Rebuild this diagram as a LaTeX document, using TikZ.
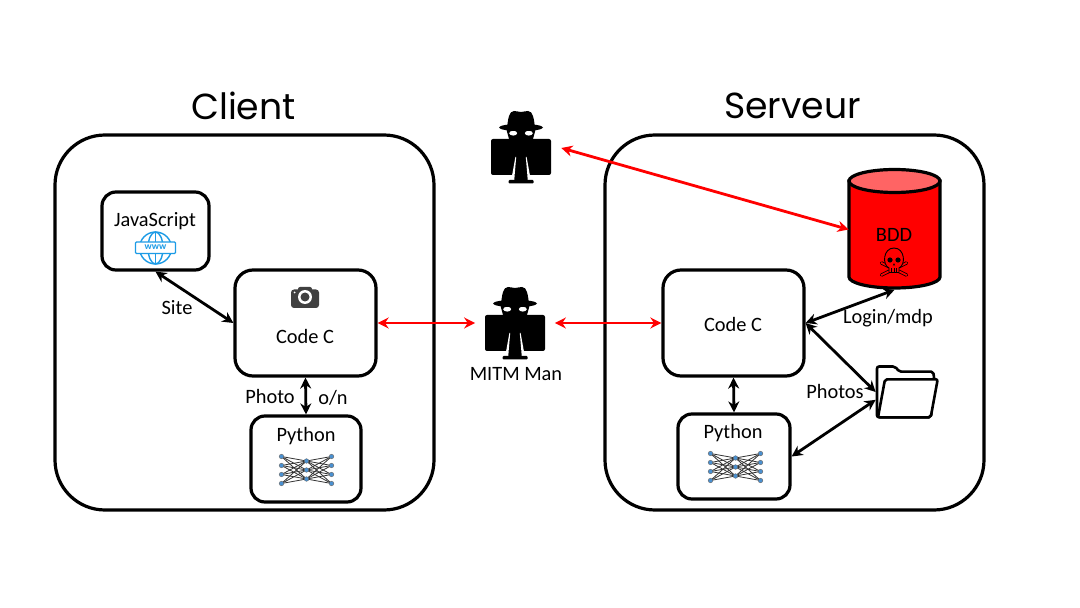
\documentclass[tikz,border=0pt]{standalone}
\usepackage{fontspec}
\setmainfont{Carlito}
\newfontfamily\titlefont{Poppins}
\usetikzlibrary{arrows.meta}
\def\px{0.02cm}
\definecolor{wwwblue}{HTML}{1C9BE6}
\definecolor{netblue}{HTML}{4A90D0}
\definecolor{camgray}{HTML}{404040}
\definecolor{bddtop}{HTML}{FF6464}
\tikzset{
    outerbox/.style={draw, line width=3.2*\px, rounded corners=50*\px, inner sep=0pt, minimum width=379*\px, minimum height=375*\px},
    innerbox/.style={draw, line width=3.2*\px, rounded corners=14*\px, inner sep=0pt, fill=white},
    iconbox/.style={inner sep=0pt, minimum width=#1*\px, minimum height=60*\px},
    lbl/.style={font=\fontsize{11.6pt}{13pt}\selectfont, inner sep=0pt},
    titlelbl/.style={font=\titlefont\fontsize{20.6pt}{24pt}\selectfont, inner sep=0pt},
    blackarrow/.style={{Stealth[length=11*\px,width=11*\px]}-{Stealth[length=11*\px,width=11*\px]}, line width=2.8*\px},
    redarrow/.style={blackarrow, red},
    spyman/.pic={
        \fill[rounded corners=2*\px] (-30,-18) rectangle (30,18);
        \fill (-15,-29) -- (15,-29) -- (12,-18) -- (-12,-18) -- cycle;
        \fill[white] (-7.8,-23.8) ellipse (4 and 2.4);
        \fill[white] (7.8,-23.8) ellipse (4 and 2.4);
        \fill (0,-29.5) ellipse (22 and 3.6);
        \fill (-14,-29) .. controls (-13,-38) and (-12,-46) .. (-7,-46) .. controls (-4,-46) and (-2,-45) .. (0,-45) .. controls (2,-45) and (4,-46) .. (7,-46) .. controls (12,-46) and (13,-38) .. (14,-29) -- cycle;
        \fill[white] (-5.6,0) -- (-4.8,0) -- (-6.6,21) -- (-9.4,21) -- cycle;
        \fill[white] (5.6,0) -- (4.8,0) -- (6.6,21) -- (9.4,21) -- cycle;
        \fill[rounded corners=1*\px] (-12.5,23) rectangle (12.5,26.5);
        \fill (-6.3,18) -- (6.3,18) -- (6.8,24) -- (-6.8,24) -- cycle;
    },
    nnet/.pic={
        \foreach \a in {-13.5,-4.5,4.5,13.5} {
            \foreach \b in {-9,0,9} {
                \draw[line width=0.8*\px, black!80] (-25,\a) -- (0,\b);
                \draw[line width=0.8*\px, black!80] (25,\a) -- (0,\b);
            }
            \fill[netblue, draw=black!60, line width=0.4*\px] (-25,\a) circle (2.3);
            \fill[netblue, draw=black!60, line width=0.4*\px] (25,\a) circle (2.3);
        }
        \foreach \b in {-9,0,9} {
            \fill[netblue, draw=black!60, line width=0.4*\px] (0,\b) circle (2.3);
        }
    }
}
\begin{document}
\begin{tikzpicture}[x=0.02cm, y=-0.02cm]
    \useasboundingbox (0,0) rectangle (1080,608);

    % Client and server frames
    \node [outerbox] (client) at (244.5,322.5) {};
    \node [outerbox] (server) at (794.5,322.5) {};
    \node [titlelbl] (clientTitle) at (243.5,106) {Client};
    \node [titlelbl] (serverTitle) at (792.5,106) {Serveur};

    % Client boxes
    \node [innerbox, minimum width=107*\px, minimum height=78*\px] (js) at (155.5,231) {};
    \node [innerbox, rounded corners=18*\px, minimum width=141*\px, minimum height=106*\px] (codeL) at (305.5,323) {};
    \node [innerbox, minimum width=110*\px, minimum height=86*\px] (pyL) at (306,459) {};
    \node [lbl] (jsLbl) at (155,221) {JavaScript};
    \node [lbl] (codeLLbl) at (305,336) {Code C};
    \node [lbl] (pyLLbl) at (306,436) {Python};

    % Server boxes
    \node [innerbox, rounded corners=18*\px, minimum width=141*\px, minimum height=106*\px] (codeR) at (733.5,323) {};
    \node [innerbox, minimum width=112*\px, minimum height=85*\px] (pyR) at (734,456.5) {};
    \node [lbl] (codeRLbl) at (733,324) {Code C};
    \node [lbl] (pyRLbl) at (733,433) {Python};

    % Database
    \node [iconbox=91, minimum height=120*\px] (bdd) at (894.5,229.5) {};
    \begin{scope}[shift={(894.5,230)}, line width=3.2*\px]
        \draw[fill=red] (-45.5,-49) -- (-45.5,47) arc[start angle=180, end angle=0, x radius=45.5, y radius=11] -- (45.5,-49) -- cycle;
        \draw[fill=bddtop] (0,-49) ellipse (45.5 and 11.5);
    \end{scope}
    \node [lbl] (bddLbl) at (894,235) {BDD};

    % Skull on the database
    \begin{scope}[shift={(894,263)}, line width=0.9*\px]
        \draw[line width=3.4*\px, line cap=round] (-12.5,0) -- (12.5,12) (12.5,0) -- (-12.5,12);
        \draw[red, line width=1.8*\px, line cap=round] (-12.5,0) -- (12.5,12) (12.5,0) -- (-12.5,12);
        \draw[fill=red] (-5,5) -- (-5,9.5) -- (5,9.5) -- (5,5) .. controls (12,2) and (11,-15) .. (0,-15) .. controls (-11,-15) and (-12,2) .. (-5,5) -- cycle;
        \draw (-2.5,5) -- (-2.5,9.5) (0,5) -- (0,9.5) (2.5,5) -- (2.5,9.5);
        \fill (-4,-3) circle (2.6);
        \fill (4,-3) circle (2.6);
        \fill (0,0) -- (-1.2,2.5) -- (1.2,2.5) -- cycle;
    \end{scope}

    % Folder
    \node [iconbox=62, minimum height=52*\px] (folder) at (907,392) {};
    \begin{scope}[shift={(907,392)}, line width=2.6*\px, rounded corners=2*\px, line join=round]
        \draw[fill=white] (-30,25.3) -- (-30,-25.5) -- (-12,-25.5) -- (-7.7,-20.3) -- (26.3,-20.3) -- (27.3,-12) -- (24,25.3) -- cycle;
        \draw[fill=white] (-22,-12.7) -- (30.7,-12.7) -- (23.7,25.3) -- (-29,25.3) -- cycle;
    \end{scope}

    % Intruders
    \node [iconbox=80] (spyT) at (521,148) {};
    \node [iconbox=79] (spyM) at (515,323) {};
    \pic at (521,157) {spyman};
    \pic at (515,333) {spyman};
    \node [lbl] (spyMLbl) at (516,374) {MITM Man};

    % Web globe
    \begin{scope}[shift={(155.5,248)}, wwwblue, line width=1.4*\px]
        \draw (0,0) circle (16);
        \draw (0,0) ellipse (7.5 and 16);
        \draw (0,-16) -- (0,-6) (0,6) -- (0,16);
        \draw[fill=white, rounded corners=1*\px] (-20,-6) rectangle (20,5.5);
        \node [inner sep=0pt, font=\bfseries\fontsize{5.5pt}{6pt}\selectfont] (wwwLbl) at (0,-0.5) {www};
    \end{scope}

    % Camera
    \begin{scope}[shift={(305,297)}]
        \fill[camgray, rounded corners=3*\px] (-14,-7.5) rectangle (14,11);
        \fill[camgray, rounded corners=2*\px] (-7,-10) rectangle (7,-4);
        \fill[white] (0,0) circle (7);
        \fill[camgray] (0,0) circle (4.5);
        \fill[white] (-10.5,-4.5) circle (1);
    \end{scope}

    % Neural networks
    \pic at (306.5,470) {nnet};
    \pic at (735.5,467) {nnet};

    % Black connections
    \draw [blackarrow] (js.south) -- (codeL.west);
    \draw [blackarrow] (codeL.south) -- (pyL.north);
    \draw [blackarrow] (codeR.south) -- (pyR.north);
    \draw [blackarrow] (codeR.east) -- (bdd.south);
    \draw [blackarrow] (codeR.east) -- (folder.west);
    \draw [blackarrow] (pyR.east) -- (folder.194);

    % Red connections
    \draw [redarrow] (codeL.east) -- (spyM.west);
    \draw [redarrow] (spyM.east) -- (codeR.west);
    \draw [redarrow] (spyT.east) -- (bdd.west);

    % Connection labels
    \node [lbl] (siteLbl) at (177,308) {Site};
    \node [lbl] (photoLbl) at (270,396) {Photo};
    \node [lbl] (onLbl) at (333,398) {o/n};
    \node [lbl] (loginLbl) at (888,318) {Login/mdp};
    \node [lbl] (photosLbl) at (835,391) {Photos};
\end{tikzpicture}
\end{document}
